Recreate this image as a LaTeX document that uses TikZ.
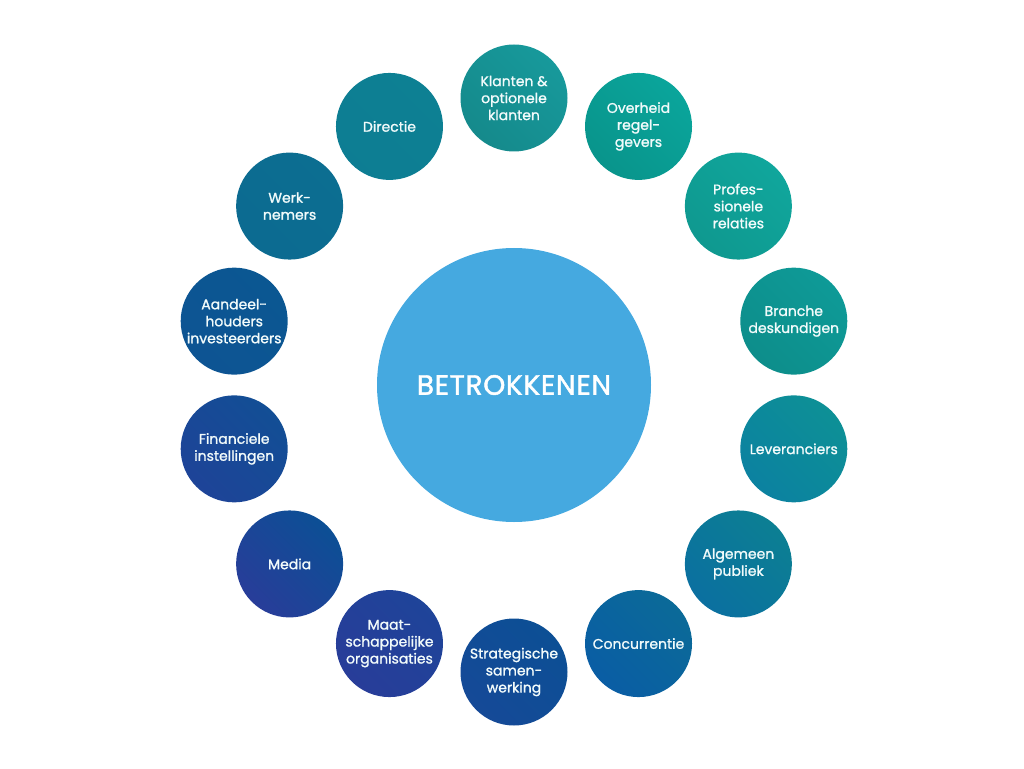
\documentclass[tikz,border=0pt]{standalone}
\usepackage{fontspec}
\setmainfont{Poppins}[FakeBold=1.2]
\newfontfamily\titlefont{Poppins}[FakeBold=1.6,LetterSpace=2.5]
\definecolor{cA}{HTML}{17999B}
\definecolor{cB}{HTML}{0AA59B}
\definecolor{cC}{HTML}{10A69C}
\definecolor{cD}{HTML}{0E9A97}
\definecolor{cE}{HTML}{0D9096}
\definecolor{cF}{HTML}{0C7F93}
\definecolor{cG}{HTML}{0B6A98}
\definecolor{cH}{HTML}{0C4F95}
\definecolor{cI}{HTML}{23419A}
\definecolor{cJ}{HTML}{283D99}
\definecolor{cK}{HTML}{174897}
\definecolor{cL}{HTML}{0B5792}
\definecolor{cM}{HTML}{0C6E91}
\definecolor{cN}{HTML}{0D8093}
\definecolor{centerblue}{HTML}{45A9E0}
\definecolor{txt}{HTML}{F2FBFB}
\tikzset{
  sc/.style={circle, minimum size=107pt, inner sep=0pt, align=center,
    text=txt, font=\fontsize{14}{17}\selectfont},
  scfill/.style 2 args={left color=#2, right color=#1, shading angle=135},
  bigc/.style={circle, fill=centerblue, minimum size=274pt, inner sep=0pt,
    text=white, font=\titlefont\fontsize{28}{30}\selectfont}
}
\begin{document}
\begin{tikzpicture}[x=1pt,y=1pt]
\useasboundingbox (-514,385) rectangle (510,-383);
\node[bigc] (center) at (0,0) {BETROKKENEN};
\node[sc, scfill={cA}{cA!90!black}] (n0) at (90:287) {Klanten \&\\optionele\\klanten};
\node[sc, scfill={cB}{cB!90!black}] (n1) at (64.286:287) {Overheid\\regel-\\gevers};
\node[sc, scfill={cC}{cC!92!black}] (n2) at (38.571:287) {Profes-\\sionele\\relaties};
\node[sc, scfill={cD}{cD!92!black}] (n3) at (12.857:287) {Branche\\deskundigen};
\node[sc, scfill={cE}{cE!90!blue}] (n4) at (-12.857:287) {Leveranciers};
\node[sc, scfill={cF}{cF!88!blue}] (n5) at (-38.571:287) {Algemeen\\publiek};
\node[sc, scfill={cG}{cG!88!blue}] (n6) at (-64.286:287) {Concurrentie};
\node[sc, scfill={cH}{cH!60!cI}] (n7) at (-90:287) {Strategische\\samen-\\werking};
\node[sc, scfill={cI!80!cH}{cJ}] (n8) at (-115.714:287) {Maat-\\schappelijke\\organisaties};
\node[sc, scfill={cH}{cJ}] (n9) at (-141.429:287) {Media};
\node[sc, scfill={cK!60!cL}{cK!60!cJ}] (n10) at (-167.143:287) {Financiele\\instellingen};
\node[sc, scfill={cL}{cL!80!cK}] (n11) at (167.143:287) {Aandeel-\\houders\\investeerders};
\node[sc, scfill={cM}{cM!85!cL}] (n12) at (141.429:287) {Werk-\\nemers};
\node[sc, scfill={cN}{cN!85!cM}] (n13) at (115.714:287) {Directie};
\end{tikzpicture}
\end{document}
